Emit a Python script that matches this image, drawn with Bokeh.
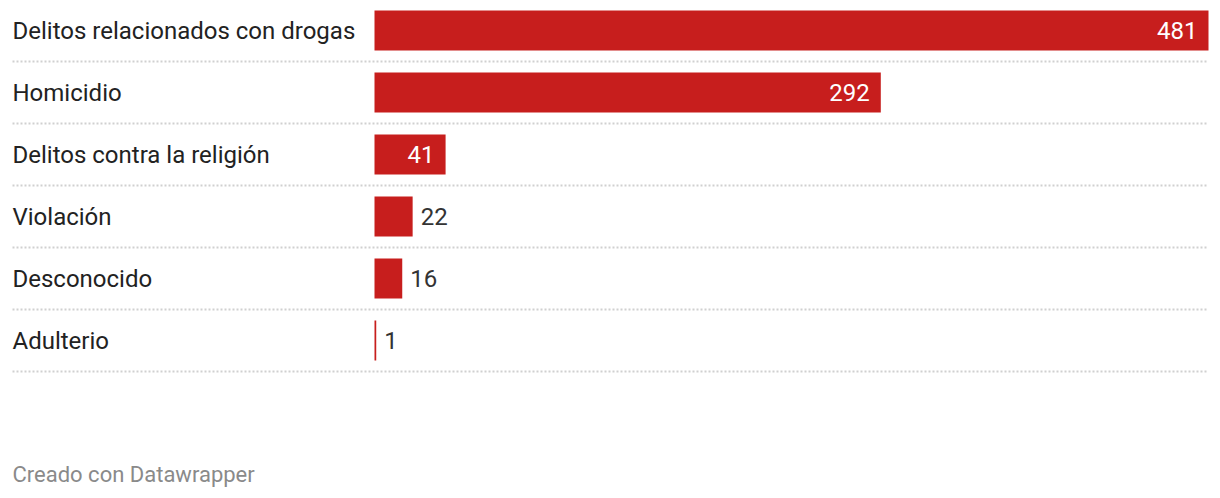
from bokeh.plotting import figure
from bokeh.models import ColumnDataSource, Range1d, Label
from bokeh.core.properties import value
from bokeh.embed import file_html
from bokeh.resources import INLINE

categories = ["Delitos relacionados con drogas", "Homicidio", "Delitos contra la religión",
              "Violación", "Desconocido", "Adulterio"]
values = [481, 292, 41, 22, 16, 1]
footer = "Creado con Datawrapper"

W, H = 1220, 498
bar_left_px, bar_right_px = 374, 1208
vmax = max(values)
ppu = (bar_right_px - bar_left_px) / vmax
x_start = -bar_left_px / ppu
x_end = (W - bar_left_px) / ppu
row_px = 62
top_px = 30
y_start = (H - top_px) / row_px
y_end = -top_px / row_px

p = figure(width=W, height=H, output_backend="svg", toolbar_location=None,
           x_range=Range1d(x_start, x_end), y_range=Range1d(y_start, y_end),
           min_border=0)
p.axis.visible = False
p.grid.visible = False
p.outline_line_color = None
p.background_fill_color = "white"

n = len(categories)
ys = list(range(n))
red = "#c71e1d"
src = ColumnDataSource(dict(y=ys, v=values, cat=categories,
                            lbl=[str(v) for v in values]))
p.hbar(y="y", left=0, right="v", height=40 / row_px, source=src,
       fill_color=red, line_color=None)

# dotted separators
left_data = x_start + 12 / ppu
p.segment(x0=[left_data] * n, x1=[vmax] * n, y0=[i + 0.5 for i in ys], y1=[i + 0.5 for i in ys],
          line_color="#d0d0d0", line_width=2, line_dash="2 2")

font = value("Roboto")
# category labels
p.text(x=[x_start] * n, y=ys, text=categories, x_offset=12, text_font=font,
       text_font_size="24px", text_color="#222222", text_baseline="middle", text_align="left")

inside = [v for v in values if v * ppu > 60]
inside_y = [i for i, v in enumerate(values) if v * ppu > 60]
outside = [v for v in values if v * ppu <= 60]
outside_y = [i for i, v in enumerate(values) if v * ppu <= 60]
p.text(x=inside, y=inside_y, text=[str(v) for v in inside], x_offset=-11, text_font=font,
       text_font_size="24px", text_color="white", text_baseline="middle", text_align="right")
p.text(x=outside, y=outside_y, text=[str(v) for v in outside], x_offset=8, text_font=font,
       text_font_size="24px", text_color="#333333", text_baseline="middle", text_align="left")

p.add_layout(Label(x=12, y=H - 474, x_units="screen", y_units="screen", text=footer,
                   text_font="Roboto", text_font_size="22px", text_color="#8a8a8a",
                   text_baseline="middle"))

open("out.html", "w").write(file_html(p, INLINE))
